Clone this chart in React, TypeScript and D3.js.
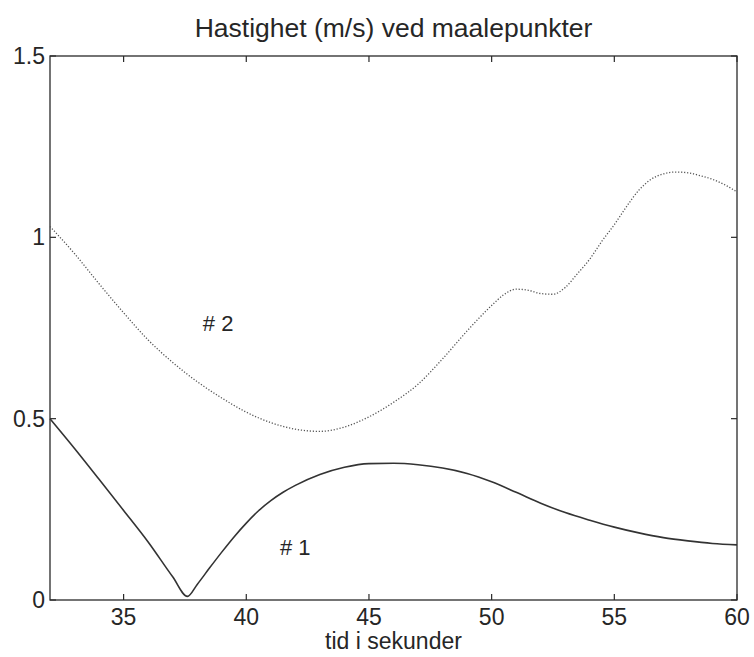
import React from "react";
import * as d3 from "d3";

const series1X = [32, 33, 34, 35, 36, 37, 37.6, 38, 38.5, 39, 39.5, 40, 40.5, 41, 41.5, 42, 43, 44, 45, 46, 47, 48, 49, 50, 51, 52, 53, 54, 55, 56, 57, 58, 59, 60];
const series1Y = [0.5, 0.418, 0.333, 0.247, 0.16, 0.064, 0.01, 0.043, 0.088, 0.132, 0.174, 0.212, 0.246, 0.274, 0.297, 0.316, 0.346, 0.366, 0.376, 0.377, 0.373, 0.364, 0.349, 0.326, 0.297, 0.267, 0.241, 0.22, 0.201, 0.185, 0.172, 0.163, 0.156, 0.152];

const series2X = [32, 33, 34, 35, 36, 37, 38, 39, 40, 41, 42, 43, 44, 45, 46, 47, 48, 49, 50, 50.5, 51, 51.5, 52, 52.5, 53, 53.5, 54, 54.5, 55, 55.5, 56, 56.5, 57, 57.5, 58, 58.5, 59, 59.5, 60];
const series2Y = [1.03, 0.955, 0.872, 0.792, 0.717, 0.655, 0.602, 0.557, 0.518, 0.489, 0.471, 0.465, 0.477, 0.505, 0.545, 0.595, 0.665, 0.742, 0.812, 0.842, 0.857, 0.854, 0.845, 0.843, 0.862, 0.9, 0.94, 0.99, 1.035, 1.085, 1.13, 1.16, 1.175, 1.18, 1.178, 1.17, 1.16, 1.145, 1.125];

const xTicks = [35, 40, 45, 50, 55, 60];
const yTicks = [0, 0.5, 1, 1.5];
const yTickLabels = ["0", "0.5", "1", "1.5"];

const title = "Hastighet (m/s) ved maalepunkter";
const xLabel = "tid i sekunder";
const seriesLabels = ["# 1", "# 2"];

export default function App() {
  const W = 754, H = 657;
  const left = 50, right = 737, top = 56, bottom = 600;
  const x = d3.scaleLinear().domain([32, 60]).range([left, right]);
  const y = d3.scaleLinear().domain([0, 1.5]).range([bottom, top]);
  const line = d3
    .line<[number, number]>()
    .x((d) => x(d[0]))
    .y((d) => y(d[1]))
    .curve(d3.curveMonotoneX);
  const d1 = line(series1X.map((v, i) => [v, series1Y[i]] as [number, number])) || "";
  const d2 = line(series2X.map((v, i) => [v, series2Y[i]] as [number, number])) || "";
  const font = "'Liberation Sans', Arial, sans-serif";
  const axisColor = "#2a2a2a";
  const textColor = "#262626";
  const tl = 6;
  return (
    <svg width={W} height={H} style={{ position: "absolute", left: 0, top: 0, background: "#fff" }} fontFamily={font}>
      <rect x={0} y={0} width={W} height={H} fill="#fff" />
      <text x={(left + right) / 2} y={37} textAnchor="middle" fontSize={26.5} fill={textColor}>{title}</text>
      <rect x={left} y={top} width={right - left} height={bottom - top} fill="none" stroke={axisColor} strokeWidth={1.3} />
      {xTicks.map((t) => (
        <g key={"x" + t}>
          <line x1={x(t)} x2={x(t)} y1={bottom} y2={bottom - tl} stroke={axisColor} strokeWidth={1.2} />
          <line x1={x(t)} x2={x(t)} y1={top} y2={top + tl} stroke={axisColor} strokeWidth={1.2} />
          <text x={x(t)} y={bottom + 25} textAnchor="middle" fontSize={23} fill={textColor}>{t}</text>
        </g>
      ))}
      {yTicks.map((t, i) => (
        <g key={"y" + t}>
          <line x1={left} x2={left + tl} y1={y(t)} y2={y(t)} stroke={axisColor} strokeWidth={1.2} />
          <line x1={right} x2={right - tl} y1={y(t)} y2={y(t)} stroke={axisColor} strokeWidth={1.2} />
          <text x={left - 5} y={y(t) + 8} textAnchor="end" fontSize={23} fill={textColor}>{yTickLabels[i]}</text>
        </g>
      ))}
      <text x={(left + right) / 2} y={bottom + 49} textAnchor="middle" fontSize={23} fill={textColor}>{xLabel}</text>
      <path d={d2} fill="none" stroke="#555" strokeWidth={1.3} strokeDasharray="1.2,1.8" />
      <path d={d1} fill="none" stroke="#333" strokeWidth={1.6} />
      <text x={x(41.37)} y={y(0.124)} fontSize={22} fill={textColor}>{seriesLabels[0]}</text>
      <text x={x(38.23)} y={y(0.742)} fontSize={22} fill={textColor}>{seriesLabels[1]}</text>
    </svg>
  );
}
